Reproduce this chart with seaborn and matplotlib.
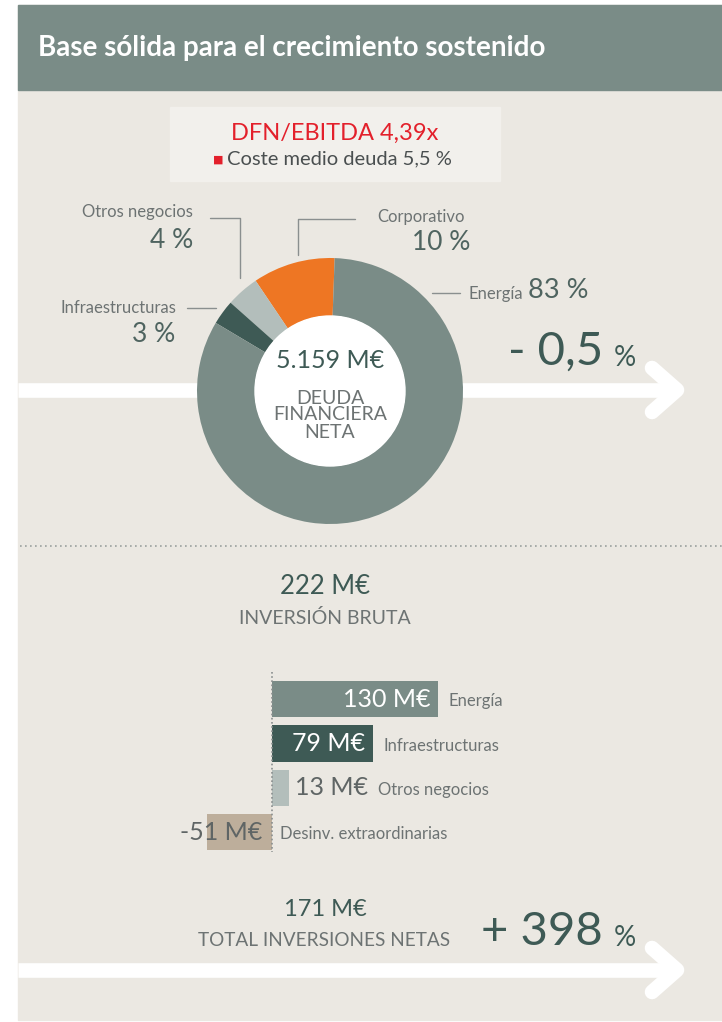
import numpy as np
import pandas as pd
import matplotlib
matplotlib.use('Agg')
import matplotlib.pyplot as plt
from matplotlib.patches import Rectangle, Circle
import seaborn as sns

# data
deuda_labels = ['Corporativo', 'Otros negocios', 'Infraestructuras', 'Energía']
deuda_pct = [10, 4, 3, 83]
deuda_colors = ['#ee7623', '#b3bebb', '#3e5a55', '#7a8c87']
deuda_total = '5.159 M€'
deuda_var = '- 0,5'

inv_labels = ['Energía', 'Infraestructuras', 'Otros negocios', 'Desinv. extraordinarias']
inv_values = [130, 79, 13, -51]
inv_colors = ['#7a8c87', '#3e5a55', '#b3bebb', '#bdae9b']
inv_bruta = '222 M€'
inv_neta = '171 M€'
inv_var = '+ 398'

sns.set_theme(style='white')
plt.rcParams['font.family'] = ['Lato', 'DejaVu Sans']

BG = '#ebe8e2'
HEAD = '#7a8c87'
DARK = '#3e5a55'
GREY = '#6d7373'

W, H = 722, 1022
fig = plt.figure(figsize=(W / 100, H / 100), dpi=100)
fig.patch.set_facecolor('white')

# base axes in pixel coordinates
base = fig.add_axes([0, 0, 1, 1])
base.set_xlim(0, W)
base.set_ylim(H, 0)
base.axis('off')

base.add_patch(Rectangle((18, 5), W - 18, H - 7, color=BG, zorder=0))
base.add_patch(Rectangle((18, 5), W - 18, 85, color=HEAD, zorder=1))
base.text(38, 48, 'Base sólida para el crecimiento sostenido', color='white',
          fontsize=20, fontweight='bold', va='center', ha='left')

# info box
base.add_patch(Rectangle((170, 107), 330, 74, color='#f2f0ec', zorder=1))
base.text(335, 133, 'DFN/EBITDA 4,39x', color='#e3202b', fontsize=17,
          ha='center', va='center', zorder=2)
base.text(218, 159, '■', color='#e3202b', fontsize=8, ha='center', va='center', zorder=2)
base.text(227, 159, 'Coste medio deuda 5,5 %', color='#4a4f50', fontsize=14.5,
          ha='left', va='center', zorder=2)


def arrow(y):
    base.plot([18, 675], [y, y], color='white', lw=10.5, solid_capstyle='butt', zorder=2)
    base.plot([652, 677, 652], [y - 22, y, y + 22], color='white', lw=10.5,
              solid_capstyle='round', solid_joinstyle='round', zorder=2)


arrow(390)
arrow(970)

# donut
cx, cy, R, Rin = 330, 391, 133, 75
side = 150
dax = fig.add_axes([(cx - side) / W, (H - cy - side) / H, 2 * side / W, 2 * side / H])
dax.pie(deuda_pct, colors=deuda_colors, startangle=88, counterclock=True,
        radius=R / side, wedgeprops=dict(width=(R - Rin) / side, linewidth=0))
dax.add_patch(Circle((0, 0), Rin / side, color='white'))
dax.set_xlim(-1, 1)
dax.set_ylim(-1, 1)
dax.set_aspect('equal')
dax.axis('off')
dax.text(0, 30 / side, deuda_total, color=DARK, fontsize=18, ha='center', va='center')
dax.text(0, -24 / side, 'DEUDA\nFINANCIERA\nNETA', color=GREY, fontsize=14,
         ha='center', va='center', linespacing=1.0)

# donut callouts
lc = '#8a8f8f'
PC = '#4f6460'
base.text(193, 212, deuda_labels[1], color=GREY, fontsize=12, ha='right', va='center')
base.text(193, 240, f'{deuda_pct[1]} %', color=PC, fontsize=19, ha='right', va='center')
base.plot([210, 240, 240], [218, 218, 278], color=lc, lw=1)
base.text(377, 217, deuda_labels[0], color=GREY, fontsize=12, ha='left', va='center')
base.text(470, 243, f'{deuda_pct[0]} %', color=PC, fontsize=19, ha='right', va='center')
base.plot([355, 298, 298], [219, 219, 255], color=lc, lw=1)
base.text(176, 308, deuda_labels[2], color=GREY, fontsize=12, ha='right', va='center')
base.text(175, 335, f'{deuda_pct[2]} %', color=PC, fontsize=19, ha='right', va='center')
base.plot([187, 216], [308, 308], color=lc, lw=1)
base.text(468, 294, deuda_labels[3], color=GREY, fontsize=12, ha='left', va='center')
base.text(528, 291, f'{deuda_pct[3]} %', color=PC, fontsize=19.5, ha='left', va='center')
base.plot([432, 460], [293, 293], color=lc, lw=1)

base.text(603, 352, deuda_var, color=DARK, fontsize=34, ha='right', va='center')
base.text(614, 358, '%', color=DARK, fontsize=20, ha='left', va='center')

# separator
base.plot([20, W], [546, 546], color='#9aa09e', lw=1.2, ls=(0, (1, 2)))

base.text(325, 587, inv_bruta, color=DARK, fontsize=18.5, ha='center', va='center')
base.text(325, 618, 'INVERSIÓN BRUTA', color=GREY, fontsize=14, ha='center', va='center')

# bar chart
x0, pxu = 272, 166 / 130
yc0, pxr = 699, 44.4
left_px, right_px, top_px, bot_px = 150, 520, 668, 858
bax = fig.add_axes([left_px / W, (H - bot_px) / H, (right_px - left_px) / W, (bot_px - top_px) / H])
df = pd.DataFrame({'cat': inv_labels, 'val': inv_values})
sns.barplot(data=df, x='val', y='cat', hue='cat', palette=inv_colors, legend=False,
            width=0.82, ax=bax, saturation=1, linewidth=0)
bax.set_xlim((left_px - x0) / pxu, (right_px - x0) / pxu)
bax.set_ylim((bot_px - yc0) / pxr, (top_px - yc0) / pxr)
bax.axis('off')
bax.patch.set_alpha(0)
bax.plot([0, 0], [(672 - yc0) / pxr, (852 - yc0) / pxr], color='#8a8f8f', lw=1.2, ls=(0, (1, 1.5)))

for i, (lab, v) in enumerate(zip(inv_labels, inv_values)):
    txt = f'{v} M€'
    if v >= 50:
        bax.text(v - 6, i, txt, color='white', fontsize=18, ha='right', va='center')
        bax.text(v + 8, i + 0.05, lab, color=GREY, fontsize=12, ha='left', va='center')
    elif v >= 0:
        bax.text(v + 5, i, txt, color='#5f6565', fontsize=18, ha='left', va='center')
        bax.text(v + 70, i + 0.05, lab, color=GREY, fontsize=12, ha='left', va='center')
    else:
        bax.text(-8, i, txt, color='#5f6565', fontsize=18, ha='right', va='center')
        bax.text(6.5, i + 0.05, lab, color=GREY, fontsize=12, ha='left', va='center')

base.text(325, 910, inv_neta, color=DARK, fontsize=17, ha='center', va='center')
base.text(324, 940, 'TOTAL INVERSIONES NETAS', color=GREY, fontsize=13.7, ha='center', va='center')
base.text(603, 932, inv_var, color=DARK, fontsize=34, ha='right', va='center')
base.text(614, 938, '%', color=DARK, fontsize=20, ha='left', va='center')

fig.savefig('out.png', dpi=100, facecolor='white')
